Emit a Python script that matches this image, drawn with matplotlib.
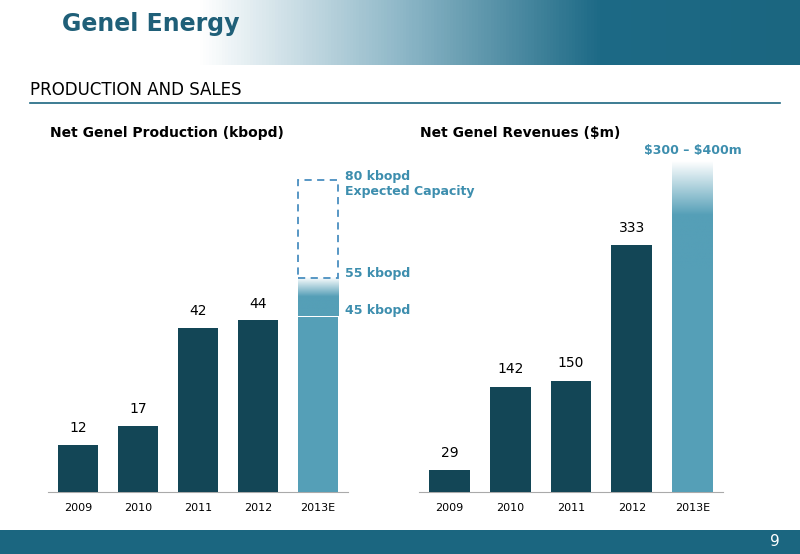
import numpy as np
import matplotlib.pyplot as plt
from matplotlib.patches import Rectangle
from matplotlib.colors import LinearSegmentedColormap

W, H = 800, 554

years = ["2009", "2010", "2011", "2012", "2013E"]
production = [12, 17, 42, 44]
prod_2013_low, prod_2013_mid, prod_2013_cap = 45, 55, 80
revenues = [29, 142, 150, 333]
rev_2013_low, rev_2013_top = 300, 445

DARK = "#134656"
LIGHT = "#559fb7"
ACCENT = "#3d8eae"


def ax_px(fig, x0, y0, x1, y1):
    # pixel box (top-left origin) -> axes
    return fig.add_axes([x0 / W, 1 - y1 / H, (x1 - x0) / W, (y1 - y0) / H])


def gradient(ax, x, w, y0, y1):
    cmap = LinearSegmentedColormap.from_list("g", [LIGHT, LIGHT, "#ffffff"])
    grad = np.linspace(0, 1, 256).reshape(-1, 1)
    ax.imshow(grad, cmap=cmap, aspect="auto", origin="lower",
              extent=[x - w / 2, x + w / 2, y0, y1], zorder=2)


fig = plt.figure(figsize=(W / 100, H / 100), dpi=100)

# header band
hdr = fig.add_axes([0, 1 - 65 / H, 1, 65 / H])
hcm = LinearSegmentedColormap.from_list("h", ["#ffffff", "#ffffff", "#8fb8c8", "#1d6a86", "#1b6680"])
hdr.imshow(np.linspace(0, 1, 256).reshape(1, -1), cmap=hcm, aspect="auto")
hdr.axis("off")
fig.text(62 / W, 1 - 24 / H, "Genel Energy", fontsize=17, fontweight="bold",
         color="#1f5f78", va="center")

# footer band
ftr = fig.add_axes([0, 0, 1, 24 / H])
ftr.set_facecolor("#1b6680")
ftr.set_xticks([]); ftr.set_yticks([])
for s in ftr.spines.values():
    s.set_visible(False)
fig.text(775 / W, 12 / H, "9", color="white", fontsize=11, ha="center", va="center")

fig.text(30 / W, 1 - 90 / H, "PRODUCTION AND SALES", fontsize=12, va="center")
fig.add_artist(plt.Line2D([30 / W, 780 / W], [1 - 103 / H] * 2, color="#1b6680", lw=1.2))

# left chart
ax1 = ax_px(fig, 48, 150, 348, 492)
x = np.arange(5)
bw = 0.67
ax1.bar(x[:4], production, width=bw, color=DARK, zorder=3)
ax1.bar(x[4], prod_2013_low, width=bw, color=LIGHT, zorder=3)
gradient(ax1, x[4], bw, prod_2013_low, prod_2013_mid)
ax1.add_patch(Rectangle((x[4] - bw / 2, prod_2013_mid), bw, prod_2013_cap - prod_2013_mid,
                        fill=False, ls=(0, (4, 3)), ec="#4a8fc0", lw=1.3, zorder=3))
for i, v in enumerate(production):
    ax1.text(i, v + 2.5, str(v), ha="center", va="bottom", fontsize=10)
ax1.text(x[4] + 0.45, prod_2013_cap - 1, "80 kbopd\nExpected Capacity", color=ACCENT,
         fontsize=9, fontweight="bold", va="center", linespacing=1.2)
ax1.text(x[4] + 0.45, prod_2013_mid + 1, "55 kbopd", color=ACCENT, fontsize=9,
         fontweight="bold", va="center")
ax1.text(x[4] + 0.45, prod_2013_low + 1.5, "45 kbopd", color=ACCENT, fontsize=9,
         fontweight="bold", va="center")
ax1.set_xlim(-0.5, 4.5)
ax1.set_ylim(0, 342 / 3.9)
fig.text(50 / W, 1 - 133 / H, "Net Genel Production (kbopd)", fontsize=10, fontweight="bold", va="center")

# right chart
ax2 = ax_px(fig, 419, 150, 723, 492)
ax2.bar(x[:4], revenues, width=bw, color=DARK, zorder=3)
ax2.bar(x[4], rev_2013_low, width=bw, color=LIGHT, zorder=3)
gradient(ax2, x[4], bw, rev_2013_low, rev_2013_top)
for i, v in enumerate(revenues):
    ax2.text(i, v + 14, str(v), ha="center", va="bottom", fontsize=10)
ax2.text(x[4], rev_2013_top + 6, "\\$300 – \\$400m", color=ACCENT, fontsize=9,
         fontweight="bold", ha="center", va="bottom")
ax2.set_xlim(-0.5, 4.5)
ax2.set_ylim(0, 342 / 0.742)
fig.text(420 / W, 1 - 133 / H, "Net Genel Revenues ($m)", fontsize=10, fontweight="bold", va="center")

for ax in (ax1, ax2):
    ax.set_xticks(x)
    ax.set_xticklabels(years, fontsize=8)
    ax.set_yticks([])
    for s in ("top", "right", "left"):
        ax.spines[s].set_visible(False)
    ax.spines["bottom"].set_color("#aaaaaa")
    ax.tick_params(axis="x", length=0, pad=8)
    ax.set_facecolor("none")

fig.savefig("out.png", dpi=100)
